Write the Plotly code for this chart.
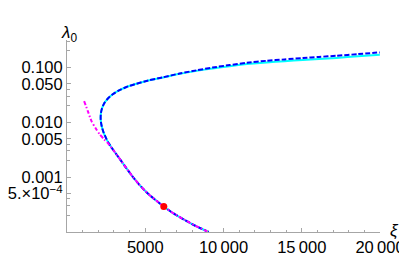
import plotly.graph_objects as go

# Full solution curve (blue dashed), from lower end up through the nose to the upper branch
xi_full = [9050, 8200, 7420, 6700, 6185, 5720, 5300, 4970, 4600, 4220, 3800, 3370, 3000, 2700, 2500, 2340, 2230, 2170, 2150, 2170, 2240, 2380, 2600, 2900, 3265, 3800, 4332, 5200, 6121, 7200, 8275, 9300, 10403, 11500, 12748, 13900, 15067, 16100, 17220, 18600, 19990]
lam_full = [1.0e-4, 1.30e-4, 1.72e-4, 2.28e-4, 2.92e-4, 3.70e-4, 4.65e-4, 5.70e-4, 7.40e-4, 1.00e-3, 1.45e-3, 2.15e-3, 3.00e-3, 4.00e-3, 5.10e-3, 6.50e-3, 8.20e-3, 0.0101, 0.0122, 0.0148, 0.0180, 0.0222, 0.0268, 0.0320, 0.0375, 0.0440, 0.0494, 0.0580, 0.0660, 0.0775, 0.0885, 0.0995, 0.1105, 0.1215, 0.1320, 0.1400, 0.1480, 0.1555, 0.1630, 0.1750, 0.1880]

# Cyan solid curve (same except the far upper branch, slightly lower)
lam_cyan = [1.0e-4, 1.30e-4, 1.72e-4, 2.28e-4, 2.92e-4, 3.70e-4, 4.65e-4, 5.70e-4, 7.40e-4, 1.00e-3, 1.45e-3, 2.15e-3, 3.00e-3, 4.00e-3, 5.10e-3, 6.50e-3, 8.20e-3, 0.0101, 0.0122, 0.0148, 0.0180, 0.0222, 0.0268, 0.0320, 0.0375, 0.0440, 0.0494, 0.0578, 0.0655, 0.0765, 0.0865, 0.0960, 0.1055, 0.1150, 0.1235, 0.1300, 0.1365, 0.1425, 0.1490, 0.1595, 0.1707]

# Magenta dash-dot approximation (lower branch)
xi_mag = [1093, 1330, 1565, 1830, 2096, 2370, 2650, 3000, 3370, 3800, 4220, 4600, 4970, 5300, 5720, 6185, 6700, 7420, 8200, 9050]
lam_mag = [0.0244, 0.0160, 0.0105, 7.8e-3, 6.0e-3, 4.9e-3, 4.05e-3, 3.00e-3, 2.15e-3, 1.45e-3, 1.00e-3, 7.40e-4, 5.70e-4, 4.65e-4, 3.70e-4, 2.92e-4, 2.28e-4, 1.72e-4, 1.30e-4, 1.0e-4]

# Marked point
xi_pt = [6185]
lam_pt = [2.92e-4]

x_tickvals = [5000, 10000, 15000, 20000]
x_ticktext = ["5000", "10\u2009000", "15\u2009000", "20\u2009000"]
y_tickvals = [0.1, 0.05, 0.01, 0.005, 0.001, 0.0005]
y_ticktext = ["0.100", "0.050", "0.010", "0.005", "0.001", "5.\u00d710<sup>\u22124</sup>"]
y_minor = [0.3, 0.2, 0.04, 0.03, 0.02, 0.004, 0.003, 0.002, 0.0004, 0.0003, 0.0002]

axis_col = "#a6a6a6"

fig = go.Figure()
fig.add_trace(go.Scatter(x=xi_full, y=lam_cyan, mode="lines",
                         line=dict(color="#00FFFF", width=2, shape="spline", smoothing=0.6)))
fig.add_trace(go.Scatter(x=xi_full, y=lam_full, mode="lines",
                         line=dict(color="#0000FF", width=2, dash="5px,2px", shape="spline", smoothing=0.6)))
fig.add_trace(go.Scatter(x=xi_mag, y=lam_mag, mode="lines",
                         line=dict(color="#FF00FF", width=2, dash="4px,2px,1.5px,2px", shape="spline", smoothing=0.6)))
fig.add_trace(go.Scatter(x=xi_pt, y=lam_pt, mode="markers",
                         marker=dict(color="#FF0000", size=7)))

# page body has an 8px margin, so the figure is 8px smaller and offset accordingly
fig.update_layout(
    width=399, height=263,
    margin=dict(l=59, r=27, t=32, b=39, autoexpand=False),
    paper_bgcolor="white", plot_bgcolor="white",
    showlegend=False,
    font=dict(family="Liberation Sans, Arial, sans-serif", size=16.5, color="black"),
    xaxis=dict(range=[0, 20000], showgrid=False, zeroline=False, automargin=False,
               showline=True, linecolor=axis_col, linewidth=1,
               ticks="inside", ticklen=4, tickcolor=axis_col,
               tickvals=x_tickvals, ticktext=x_ticktext, ticklabeloverflow="allow",
               minor=dict(dtick=1000, tick0=0, ticks="inside", ticklen=2.5, tickcolor=axis_col, showgrid=False)),
    yaxis=dict(type="log", range=[-4, -0.5], showgrid=False, zeroline=False, automargin=False,
               showline=True, linecolor=axis_col, linewidth=1,
               ticks="inside", ticklen=4, tickcolor=axis_col,
               tickvals=y_tickvals, ticktext=y_ticktext, ticklabeloverflow="allow",
               minor=dict(tickvals=y_minor, ticks="inside", ticklen=2.5, tickcolor=axis_col, showgrid=False)),
    annotations=[
        dict(text="<i>λ</i><sub>0</sub>", xref="paper", yref="paper", x=0.005, y=1.03,
             showarrow=False, xanchor="center", yanchor="middle", font=dict(size=17)),
        dict(text="<i>ξ</i>", xref="paper", yref="paper", x=1.045, y=0.01,
             showarrow=False, xanchor="center", yanchor="middle", font=dict(size=17)),
    ],
)

fig.write_html("out.html")
